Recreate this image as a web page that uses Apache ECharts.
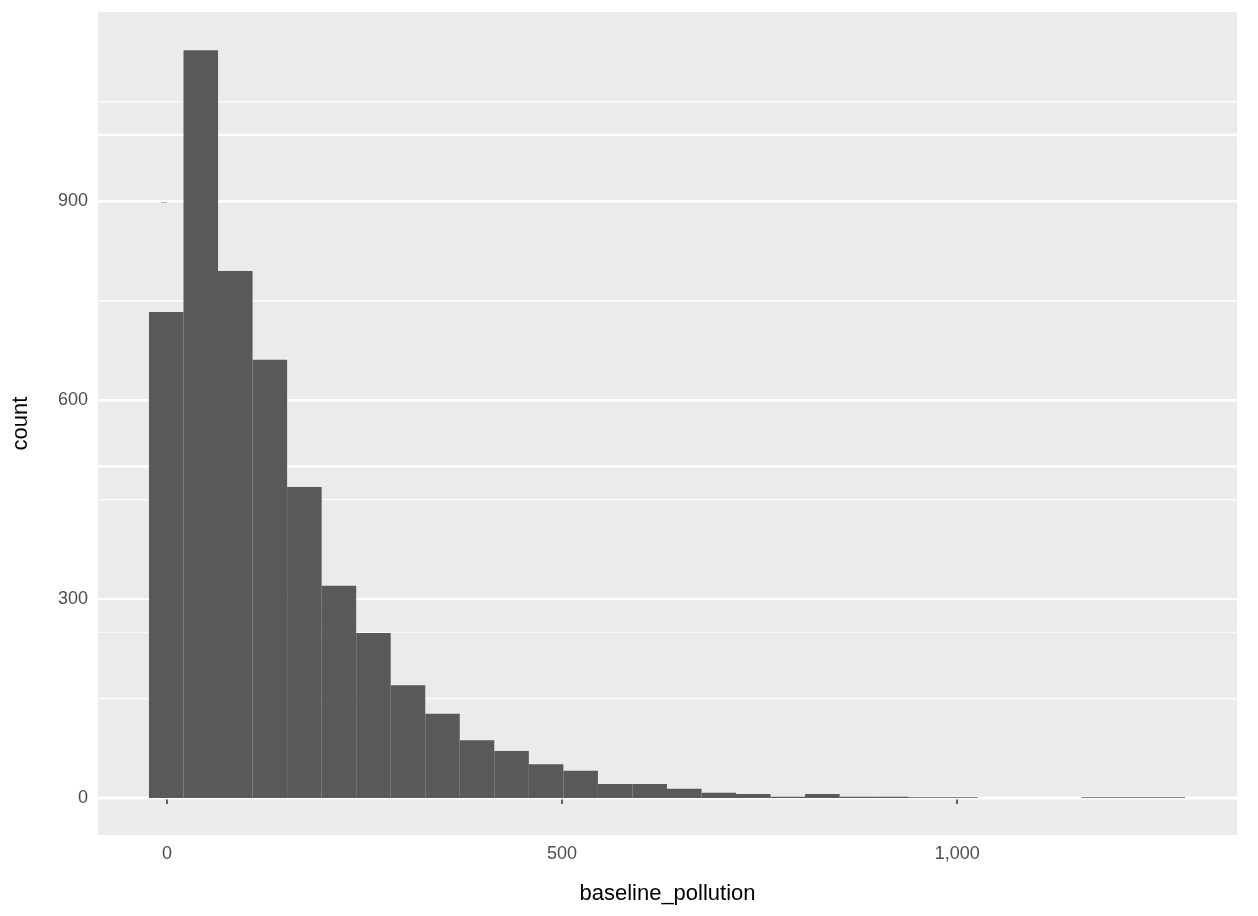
<!DOCTYPE html>
<html><head><meta charset="utf-8">
<script src="https://cdn.jsdelivr.net/npm/echarts@6/dist/echarts.min.js"></script>
<style>html,body{margin:0;padding:0;background:#fff}#c{width:1258px;height:916px}</style>
</head><body><div id="c"></div>
<script>
const binStart = -22.8;
const binWidth = 43.7;
const counts = [733,1128,795,661,469,320,249,170,127,87,71,51,41,21,21,14,8,6,2,6,2,2,1,1,0,0,0,1,1,1];
const xBreaks = [0,500,1000];
const xMinor = [250,750,1250];
const yBreaks = [0,300,600,900];
const yMinor = [150,450,750,1050];

const bars = counts.map((c,i)=>[binStart+i*binWidth, binStart+(i+1)*binWidth, c]);
const grid = [];
xMinor.forEach(v=>grid.push(['x',v,1.2]));
yMinor.forEach(v=>grid.push(['y',v,1.2]));
xBreaks.forEach(v=>grid.push(['x',v,2.4]));
yBreaks.forEach(v=>grid.push(['y',v,2.4]));

const chart = echarts.init(document.getElementById('c'));
chart.setOption({
  animation:false,
  grid:{left:98,right:21,top:12,bottom:81,backgroundColor:'#EBEBEB',show:true,borderWidth:0},
  xAxis:{type:'value',min:-87.3,max:1354,name:'baseline_pollution',nameLocation:'middle',nameGap:48,
    nameTextStyle:{color:'#000',fontSize:22,fontFamily:'Liberation Sans'},
    axisLine:{show:false},splitLine:{show:false},
    axisTick:{show:true,customValues:xBreaks,length:6,lineStyle:{color:'#333',width:1.5}},
    axisLabel:{customValues:xBreaks,color:'#4D4D4D',fontSize:18,margin:10,fontFamily:'Liberation Sans'}},
  yAxis:{type:'value',min:-55.8,max:1185.6,name:'count',nameLocation:'middle',nameGap:66,
    nameTextStyle:{color:'#000',fontSize:22,fontFamily:'Liberation Sans'},
    axisLine:{show:false},splitLine:{show:false},
    axisTick:{show:true,customValues:yBreaks,length:6,lineStyle:{color:'#333',width:1.5}},
    axisLabel:{customValues:yBreaks,color:'#4D4D4D',fontSize:18,margin:10,fontFamily:'Liberation Sans'}},
  series:[
    {type:'custom',silent:true,data:grid,z:1,renderItem:(p,api)=>{
      const ax=api.value(0), v=api.value(1), w=api.value(2);
      const cs=p.coordSys;
      let s;
      if(ax==='x'){const x=api.coord([v,0])[0];s={x1:x,y1:cs.y,x2:x,y2:cs.y+cs.height};}
      else{const y=api.coord([0,v])[1];s={x1:cs.x,y1:y,x2:cs.x+cs.width,y2:y};}
      return {type:'line',shape:s,style:{stroke:'#fff',lineWidth:w}};
    },encode:{x:[],y:[]}},
    {type:'custom',data:bars,z:2,renderItem:(p,api)=>{
      const a=api.coord([api.value(0),api.value(2)]);
      const b=api.coord([api.value(1),0]);
      return {type:'rect',shape:{x:a[0],y:a[1],width:b[0]-a[0],height:b[1]-a[1]},style:{fill:'#595959'}};
    },encode:{x:[0,1],y:2}}
  ]
});
</script></body></html>
